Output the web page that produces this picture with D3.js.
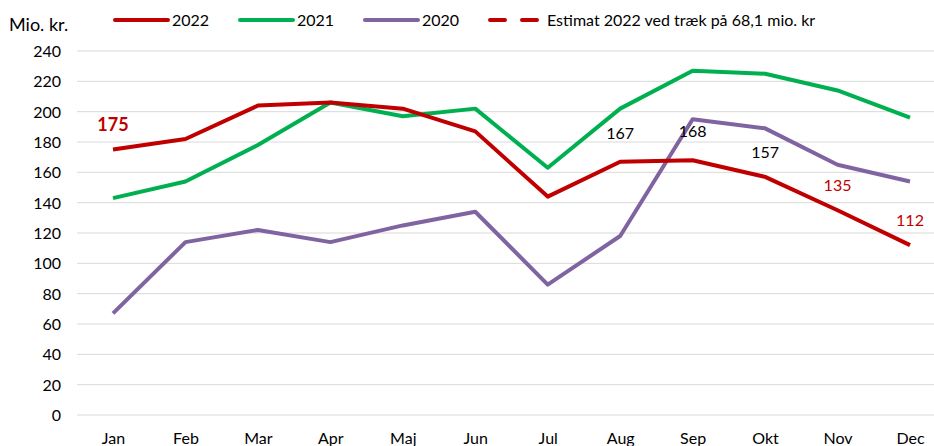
<!DOCTYPE html>
<html lang="da">
<head>
<meta charset="UTF-8">
<title>Mio. kr.</title>
<script src="https://d3js.org/d3.v7.min.js"></script>
<style>
  body { margin: 0; background: #fff; }
  svg text { font-family: Lato, "Open Sans", sans-serif; fill: #000; }
</style>
</head>
<body>
<svg width="934" height="446"></svg>
<script>
var months = ["Jan", "Feb", "Mar", "Apr", "Maj", "Jun", "Jul", "Aug", "Sep", "Okt", "Nov", "Dec"];
var v2022 = [175, 182, 204, 206, 202, 187, 144, 167, 168, 157, 135, 112];
var v2021 = [143, 154, 178, 206, 197, 202, 163, 202, 227, 225, 214, 196];
var v2020 = [67, 114, 122, 114, 125, 134, 86, 118, 195, 189, 165, 154];
var yTicks = [0, 20, 40, 60, 80, 100, 120, 140, 160, 180, 200, 220, 240];
// labels shown on the 2022 line
var labels2022 = [
  {i: 0, text: "175", color: "#C00000", bold: true, dx: 0, dy: -19},
  {i: 7, text: "167", color: "#000", dx: 0, dy: -23},
  {i: 8, text: "168", color: "#000", dx: 0, dy: -23},
  {i: 9, text: "157", color: "#000", dx: 0, dy: -19},
  {i: 10, text: "135", color: "#C00000", dx: 0, dy: -19},
  {i: 11, text: "112", color: "#C00000", dx: 0, dy: -19}
];

var svg = d3.select("svg");

var x = d3.scalePoint().domain(months).range([113, 910]);
var y = d3.scaleLinear().domain([0, 240]).range([415, 51]);

// grid
svg.append("g")
  .selectAll("line")
  .data(yTicks)
  .join("line")
  .attr("x1", 77).attr("x2", 934)
  .attr("y1", d => y(d)).attr("y2", d => y(d))
  .style("stroke", "#d9d9d9")
  .style("stroke-width", 1);

var yAxis = svg.append("g")
  .attr("transform", "translate(61,0)")
  .call(d3.axisLeft(y).tickValues(yTicks).tickSize(0).tickPadding(0));
yAxis.select(".domain").remove();
yAxis.selectAll("text").style("font-size", "16px").attr("dy", "0.35em");

var xAxis = svg.append("g")
  .attr("transform", "translate(0,433)")
  .call(d3.axisBottom(x).tickSize(0).tickPadding(0));
xAxis.select(".domain").remove();
xAxis.selectAll("text").style("font-size", "16px").attr("dy", "0.71em");

svg.append("text")
  .attr("x", 9).attr("y", 31)
  .style("font-size", "18px")
  .text("Mio. kr.");

var line = d3.line()
  .x((d, i) => x(months[i]))
  .y(d => y(d));

var series = [
  {name: "2020", values: v2020, color: "#8064A2"},
  {name: "2021", values: v2021, color: "#00B050"},
  {name: "2022", values: v2022, color: "#C00000"}
];

svg.append("g")
  .selectAll("path")
  .data(series)
  .join("path")
  .attr("d", d => line(d.values))
  .style("fill", "none")
  .style("stroke", d => d.color)
  .style("stroke-width", 4)
  .style("stroke-linejoin", "round");

svg.append("g")
  .selectAll("text")
  .data(labels2022)
  .join("text")
  .attr("x", d => x(months[d.i]) + d.dx)
  .attr("y", d => y(v2022[d.i]) + d.dy)
  .attr("text-anchor", "middle")
  .style("font-size", d => d.bold ? "18px" : "16px")
  .style("font-weight", d => d.bold ? "bold" : "normal")
  .style("fill", d => d.color)
  .text(d => d.text);

// legend
var legend = [
  {name: "2022", color: "#C00000", x: 115, dash: null},
  {name: "2021", color: "#00B050", x: 240, dash: null},
  {name: "2020", color: "#8064A2", x: 365, dash: null},
  {name: "Estimat 2022 ved træk på 68,1 mio. kr", color: "#C00000", x: 490, dash: "15,17"}
];
var lg = svg.append("g")
  .selectAll("g")
  .data(legend)
  .join("g")
  .attr("transform", d => "translate(" + d.x + ",20)");
lg.append("line")
  .attr("x1", 0).attr("x2", 53)
  .style("stroke", d => d.color)
  .style("stroke-width", 4)
  .style("stroke-linecap", "round")
  .style("stroke-dasharray", d => d.dash);
lg.append("text")
  .attr("x", 57).attr("dy", "0.35em")
  .style("font-size", "16px")
  .text(d => d.name);
</script>
</body>
</html>
